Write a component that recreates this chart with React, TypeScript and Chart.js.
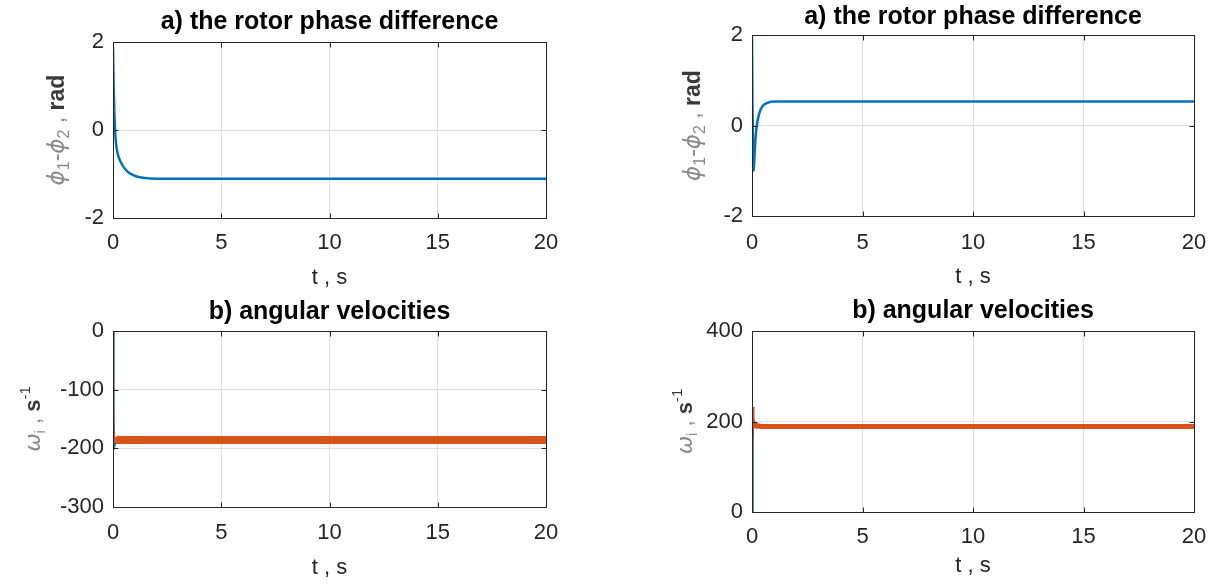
import React, { useEffect, useRef } from "react";
import { Chart, registerables } from "chart.js";

Chart.register(...registerables);

const FONT = '"Liberation Sans", Arial, Helvetica, sans-serif';
const BLUE = "#0072BD";
const ORANGE = "#D95319";

// tick labels
const xTicks = [0, 5, 10, 15, 20];
const yTicksPhase = [-2, 0, 2];
const yTicksOmegaA = [-300, -200, -100, 0];
const yTicksOmegaB = [0, 200, 400];

// a) rotor phase difference, left figure
const tPhaseA = [0, 0.03, 0.06, 0.09, 0.12, 0.18, 0.25, 0.35, 0.5, 0.7, 1.0, 1.3, 1.7, 2.5, 5, 10, 15, 20];
const phaseA = [1.9, 1.0, 0.45, 0.05, -0.2, -0.45, -0.6, -0.72, -0.85, -0.96, -1.04, -1.08, -1.1, -1.11, -1.11, -1.11, -1.11, -1.11];

// a) rotor phase difference, right figure
const tPhaseB = [0, 0.02, 0.05, 0.08, 0.12, 0.18, 0.25, 0.35, 0.5, 0.7, 1.0, 1.5, 5, 10, 15, 20];
const phaseB = [2.0, 0.5, -0.7, -1.0, -0.6, -0.15, 0.1, 0.3, 0.44, 0.5, 0.53, 0.53, 0.53, 0.53, 0.53, 0.53];

// b) angular velocities, left figure
const tOmega1A = [0, 0.03, 0.06, 0.1, 0.2, 1, 5, 10, 15, 20];
const omega1A = [0, -150, -197, -192, -189, -188, -188, -188, -188, -188];
const tOmega2A = [0, 0.02, 0.05, 0.1, 0.2, 0.5, 1, 5, 10, 15, 20];
const omega2A = [0, -120, -177, -183, -186, -186, -186, -186, -186, -186, -186];

// b) angular velocities, right figure
const tOmega1B = [0, 0.03, 0.06, 0.1, 0.2, 1, 5, 10, 15, 20];
const omega1B = [0, 150, 205, 198, 191, 190, 190, 190, 190, 190];
const tOmega2B = [0, 0.02, 0.05, 0.08, 0.12, 0.2, 0.4, 1, 5, 10, 15, 20];
const omega2B = [0, 120, 232, 205, 186, 191, 189, 189, 189, 189, 189, 189];

const pts = (t: number[], v: number[]) => t.map((x, i) => ({ x, y: v[i] }));

type Piece = { text: string; size: number; color: string; weight?: string; style?: string; family?: string; shift?: number };

const GRAY = "#8a8a8a";
const DARK = "#3a3a3a";
const SYM = '"DejaVu Sans", sans-serif';

const phaseLabel: Piece[] = [
  { text: "\u03D5", size: 23, color: GRAY, family: SYM, style: "italic" },
  { text: "1", size: 16, color: GRAY, shift: 5 },
  { text: "-", size: 23, color: GRAY },
  { text: "\u03D5", size: 23, color: GRAY, family: SYM, style: "italic" },
  { text: "2", size: 16, color: GRAY, shift: 5 },
  { text: " , ", size: 23, color: GRAY },
  { text: "rad", size: 23, color: DARK, weight: "bold" },
];

const omegaLabel: Piece[] = [
  { text: "\u03C9", size: 22, color: GRAY, family: SYM, style: "italic" },
  { text: "i", size: 15, color: GRAY, shift: 5 },
  { text: " , ", size: 22, color: GRAY },
  { text: "s", size: 22, color: DARK, weight: "bold" },
  { text: "-1", size: 15, color: DARK, shift: -10 },
];

const pieceFont = (p: Piece) => `${p.style || "normal"} ${p.weight || "normal"} ${p.size}px ${p.family || FONT}`;

type PanelCfg = {
  x: number; y: number; w: number; h: number;
  area: { left: number; right: number; top: number; bottom: number };
  title: string; titleCenter: number;
  yMin: number; yMax: number; yTicks: number[];
  xTickCenter: number; xTitleCenter: number;
  label: Piece[]; labelBaseline: number;
  datasets: any[];
};

const TITLE_SIZE = 25;
const TICK_SIZE = 22;
const XT_SIZE = 22;

function makeFramePlugin(cfg: PanelCfg) {
  return {
    id: "frame",
    afterDatasetsDraw(chart: any) {
      const { ctx, chartArea: a } = chart;
      const xs = chart.scales.x;
      const ys = chart.scales.y;
      ctx.save();
      ctx.strokeStyle = "#262626";
      ctx.lineWidth = 1;
      const L = Math.round(a.left) + 0.5, R = Math.round(a.right) + 0.5;
      const T = Math.round(a.top) + 0.5, B = Math.round(a.bottom) + 0.5;
      ctx.beginPath();
      xs.ticks.forEach((t: any) => {
        const p = Math.round(xs.getPixelForValue(t.value)) + 0.5;
        ctx.moveTo(p, B); ctx.lineTo(p, B - 5);
        ctx.moveTo(p, T); ctx.lineTo(p, T + 5);
      });
      ys.ticks.forEach((t: any) => {
        const p = Math.round(ys.getPixelForValue(t.value)) + 0.5;
        ctx.moveTo(L, p); ctx.lineTo(L + 5, p);
        ctx.moveTo(R, p); ctx.lineTo(R - 5, p);
      });
      ctx.stroke();
      ctx.strokeRect(L, T, R - L, B - T);
      ctx.restore();
    },
    afterDraw(chart: any) {
      const { ctx, chartArea: a } = chart;
      // title
      ctx.save();
      ctx.font = `bold ${TITLE_SIZE}px ${FONT}`;
      ctx.fillStyle = "#000000";
      ctx.textAlign = "center";
      ctx.textBaseline = "middle";
      ctx.fillText(cfg.title, (a.left + a.right) / 2, cfg.titleCenter);
      ctx.restore();
      // rich y-axis label
      const pieces = cfg.label;
      ctx.save();
      let total = 0;
      const widths = pieces.map((p) => {
        ctx.font = pieceFont(p);
        const w = ctx.measureText(p.text).width;
        total += w;
        return w;
      });
      ctx.translate(cfg.labelBaseline, (a.top + a.bottom) / 2);
      ctx.rotate(-Math.PI / 2);
      ctx.textBaseline = "alphabetic";
      ctx.textAlign = "left";
      let x = -total / 2;
      pieces.forEach((p, i) => {
        ctx.font = pieceFont(p);
        ctx.fillStyle = p.color;
        ctx.fillText(p.text, x, p.shift ? p.shift : 0);
        x += widths[i];
      });
      ctx.restore();
    },
  };
}

function PanelChart({ cfg }: { cfg: PanelCfg }) {
  const ref = useRef<HTMLCanvasElement>(null);
  useEffect(() => {
    const a = cfg.area;
    const tickLh = TICK_SIZE * 1.2;
    const xtLh = XT_SIZE * 1.2;
    const chart = new Chart(ref.current as HTMLCanvasElement, {
      type: "line",
      data: { datasets: cfg.datasets },
      plugins: [makeFramePlugin(cfg)],
      options: {
        responsive: false,
        animation: false,
        events: [],
        layout: { padding: { left: 0, top: a.top, bottom: 0, right: cfg.w - a.right } },
        plugins: {
          legend: { display: false },
          tooltip: { enabled: false },
          title: { display: false },
        },
        elements: { point: { radius: 0 }, line: { tension: 0 } },
        scales: {
          x: {
            type: "linear",
            min: 0,
            max: 20,
            afterBuildTicks: (s: any) => { s.ticks = xTicks.map((v) => ({ value: v })); },
            afterFit: (s: any) => { s.height = cfg.h - a.bottom; },
            grid: { color: "#dfdfdf", drawTicks: false, lineWidth: 1 },
            border: { display: false },
            ticks: {
              color: "#262626",
              font: { family: FONT, size: TICK_SIZE },
              padding: cfg.xTickCenter - a.bottom - tickLh / 2,
              maxRotation: 0,
              autoSkip: false,
            },
            title: {
              display: true,
              text: "t , s",
              color: "#262626",
              font: { family: FONT, size: XT_SIZE },
              padding: { top: 0, bottom: cfg.h - cfg.xTitleCenter - xtLh / 2 },
            },
          },
          y: {
            type: "linear",
            min: cfg.yMin,
            max: cfg.yMax,
            afterBuildTicks: (s: any) => { s.ticks = cfg.yTicks.map((v) => ({ value: v })); },
            afterFit: (s: any) => { s.width = a.left; },
            grid: { color: "#dfdfdf", drawTicks: false, lineWidth: 1 },
            border: { display: false },
            ticks: {
              color: "#262626",
              font: { family: FONT, size: TICK_SIZE },
              padding: 9,
              autoSkip: false,
            },
          },
        },
      } as any,
    });
    return () => chart.destroy();
  }, []);
  return (
    <canvas
      ref={ref}
      width={cfg.w}
      height={cfg.h}
      style={{ position: "absolute", left: cfg.x, top: cfg.y, width: cfg.w, height: cfg.h }}
    />
  );
}

const thin = 1.5;
const bandSegment = (from: number, band: number) => ({
  borderWidth: (c: any) => (c.p0.parsed.x >= from ? band : thin),
});

const panels: PanelCfg[] = [
  {
    x: 0, y: 0, w: 612, h: 294,
    area: { left: 113, right: 546, top: 42, bottom: 218 },
    title: "a) the rotor phase difference", titleCenter: 22,
    yMin: -2, yMax: 2, yTicks: yTicksPhase,
    xTickCenter: 243, xTitleCenter: 278,
    label: phaseLabel, labelBaseline: 64,
    datasets: [
      { data: pts(tPhaseA, phaseA), borderColor: BLUE, borderWidth: 2.5, cubicInterpolationMode: "monotone" },
    ],
  },
  {
    x: 612, y: 0, w: 612, h: 294,
    area: { left: 140, right: 582, top: 35, bottom: 216 },
    title: "a) the rotor phase difference", titleCenter: 17,
    yMin: -2, yMax: 2, yTicks: yTicksPhase,
    xTickCenter: 243, xTitleCenter: 277,
    label: phaseLabel, labelBaseline: 88,
    datasets: [
      { data: pts(tPhaseB, phaseB), borderColor: BLUE, borderWidth: 2.5, cubicInterpolationMode: "monotone" },
    ],
  },
  {
    x: 0, y: 294, w: 612, h: 294,
    area: { left: 113, right: 546, top: 37, bottom: 213 },
    title: "b) angular velocities", titleCenter: 18,
    yMin: -300, yMax: 0, yTicks: yTicksOmegaA,
    xTickCenter: 239, xTitleCenter: 274,
    label: omegaLabel, labelBaseline: 40,
    datasets: [
      { data: pts(tOmega2A, omega2A), borderColor: ORANGE, borderWidth: thin, order: 0, segment: bandSegment(0.1, 8) },
      { data: pts(tOmega1A, omega1A), borderColor: BLUE, borderWidth: 2, order: 1 },
    ],
  },
  {
    x: 612, y: 294, w: 612, h: 294,
    area: { left: 140, right: 582, top: 37, bottom: 218 },
    title: "b) angular velocities", titleCenter: 17,
    yMin: 0, yMax: 400, yTicks: yTicksOmegaB,
    xTickCenter: 243, xTitleCenter: 272,
    label: omegaLabel, labelBaseline: 80,
    datasets: [
      { data: pts(tOmega2B, omega2B), borderColor: ORANGE, borderWidth: thin, order: 0, segment: bandSegment(0.12, 5) },
      { data: pts(tOmega1B, omega1B), borderColor: BLUE, borderWidth: 2, order: 1 },
    ],
  },
];

export default function App() {
  return (
    <div style={{ position: "absolute", left: 0, top: 0, width: 1224, height: 588, background: "#ffffff" }}>
      {panels.map((p, i) => (
        <PanelChart key={i} cfg={p} />
      ))}
    </div>
  );
}
